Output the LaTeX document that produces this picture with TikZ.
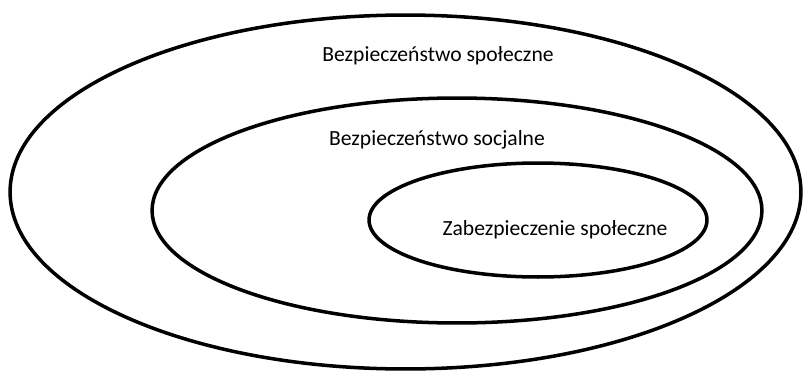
\documentclass[tikz,border=0pt]{standalone}
\usepackage{fontspec}
\setmainfont{Carlito}
\usepackage{tikz}
\usetikzlibrary{shapes.geometric}
\tikzset{
  ring/.style={draw=black, ellipse, line width=2pt, inner sep=0pt},
  lbl/.style={font=\fontsize{12.3}{15}\selectfont, text=black}
}

\begin{document}
\begin{tikzpicture}[x=0.02cm, y=-0.02cm]
\useasboundingbox (0,0) rectangle (803,372);
% Outer ring
\node[ring, minimum width=15.82cm, minimum height=7.08cm] (spoleczne) at (405.5,192) {};
\node[lbl] (tspoleczne) at (438,56) {Bezpieczeństwo społeczne};
%
% Middle ring
\node[ring, minimum width=12.2cm, minimum height=4.5cm] (socjalne) at (457,210.5) {};
\node[lbl] (tsocjalne) at (437,140) {Bezpieczeństwo socjalne};
%
% Inner ring
\node[ring, minimum width=6.76cm, minimum height=2.28cm] (zabezp) at (538,220) {};
\node[lbl] (tzabezp) at (555,230) {Zabezpieczenie społeczne};
\end{tikzpicture}
\end{document}
